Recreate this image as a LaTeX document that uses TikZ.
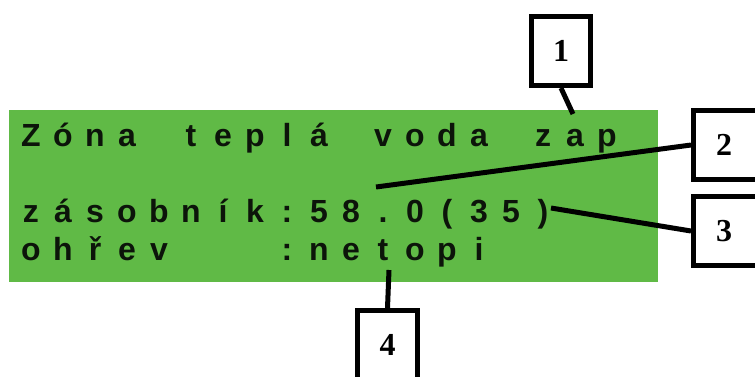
\documentclass[tikz,border=0pt]{standalone}
\usepackage{fontspec}
\newfontfamily\lcdfont{Liberation Sans}
\newfontfamily\numfont{Liberation Serif}
\definecolor{lcdgreen}{RGB}{96,186,70}
\definecolor{lcdink}{RGB}{12,20,10}
\tikzset{
  lcdchar/.style={anchor=base, inner sep=0pt, text=lcdink, font=\lcdfont\bfseries\fontsize{32}{32}\selectfont},
  numbox/.style={draw=black, line width=5pt, fill=white, inner sep=0pt,
                 minimum width=59pt, minimum height=69pt,
                 font=\numfont\bfseries\fontsize{32}{32}\selectfont},
  leader/.style={draw=black, line width=5pt}
}
\begin{document}
\begin{tikzpicture}[x=1pt,y=-1pt]
  \useasboundingbox (0,0) rectangle (755,376);
  \clip (0,0) rectangle (755,376);
  \fill[white] (0,0) rectangle (755,376);

  % display panel
  \fill[lcdgreen] (9,110) rectangle (658,282);

  % character rows on a fixed 32pt pitch
  \foreach \i/\c in {0/Z,1/ó,2/n,3/a,5/t,6/e,7/p,8/l,9/á,11/v,12/o,13/d,14/a,16/z,17/a,18/p}
    \node[lcdchar] (ra\i) at (31+32*\i,146) {\c};
  \foreach \i/\c in {0/z,1/á,2/s,3/o,4/b,5/n,6/í,7/k,8/:,9/5,10/8,11/.,12/0,13/(,14/3,15/5,16/)}
    \node[lcdchar] (rb\i) at (31+32*\i,222) {\c};
  \foreach \i/\c in {0/o,1/h,2/ř,3/e,4/v,8/:,9/n,10/e,11/t,12/o,13/p,14/i}
    \node[lcdchar] (rc\i) at (31+32*\i,260) {\c};

  % numbered callouts
  \node[numbox] (b1) at (561,51) {1};
  \node[numbox, minimum width=69pt] (b2) at (728,145) {\hspace*{-8pt}2};
  \node[numbox, minimum width=69pt] (b3) at (728,231) {\hspace*{-8pt}3};
  \node[numbox, minimum width=60pt] (b4) at (387.5,345) {4};

  % leader end points on the display
  \coordinate (p1) at (573,114);
  \coordinate (p2) at (376,187);
  \coordinate (p3) at (551,208);
  \coordinate (p4) at (389,270);

  \draw[leader] (b1.south) -- (p1);
  \draw[leader] (b2.west) -- (p2);
  \draw[leader] (b3.west) -- (p3);
  \draw[leader] (b4.north) -- (p4);
\end{tikzpicture}
\end{document}
